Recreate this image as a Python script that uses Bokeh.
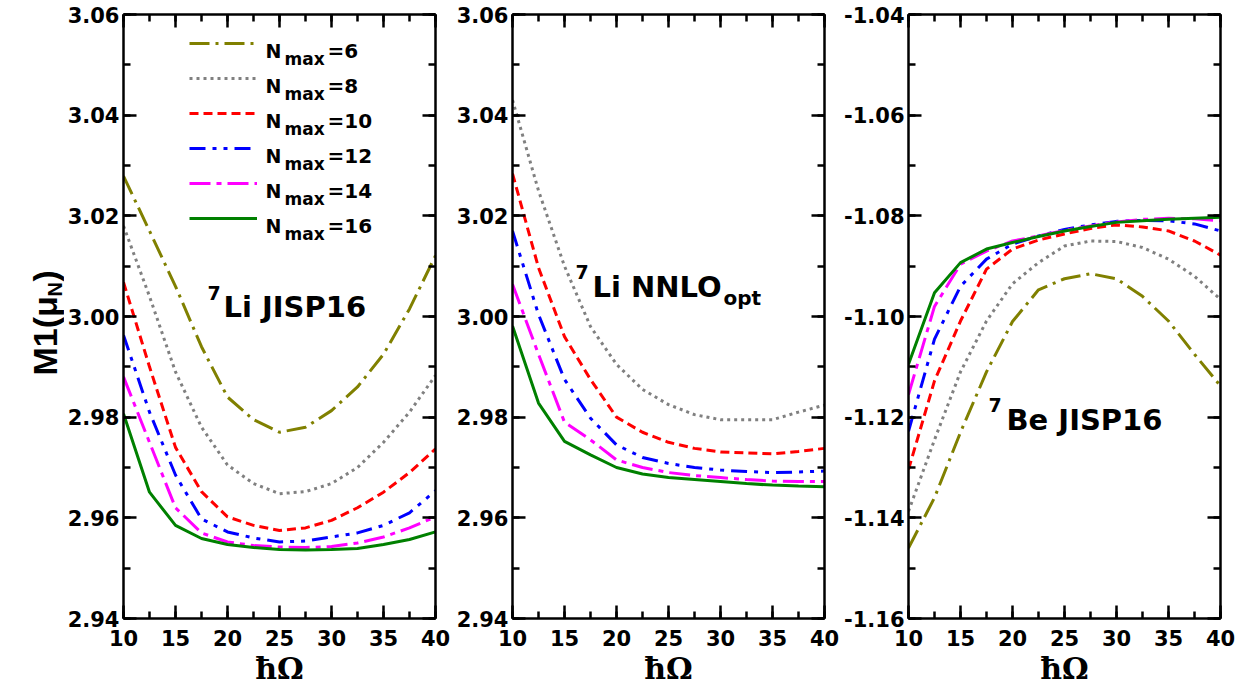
from bokeh.plotting import figure
from bokeh.layouts import row
from bokeh.models import (Range1d, FixedTicker, LinearAxis, Label, Legend, LegendItem,
                          PrintfTickFormatter, CustomJSTickFormatter)
from bokeh.embed import file_html
from bokeh.resources import INLINE

# ---------------- data ----------------
hw = [10, 12.5, 15, 17.5, 20, 22.5, 25, 27.5, 30, 32.5, 35, 37.5, 40]

# 7Li JISP16
li_jisp_n6 = [3.0279, 3.0170, 3.0060, 2.9940, 2.9840, 2.9795, 2.9770, 2.9780, 2.9813, 2.9860, 2.9925, 3.0015, 3.0121]
li_jisp_n8 = [3.0180, 3.0040, 2.9890, 2.9780, 2.9705, 2.9668, 2.9648, 2.9652, 2.9668, 2.9700, 2.9750, 2.9810, 2.9883]
li_jisp_n10 = [3.0068, 2.9900, 2.9740, 2.9652, 2.9602, 2.9585, 2.9575, 2.9580, 2.9595, 2.9620, 2.9651, 2.9690, 2.9737]
li_jisp_n12 = [2.9963, 2.9810, 2.9685, 2.9598, 2.9572, 2.9560, 2.9552, 2.9554, 2.9562, 2.9570, 2.9585, 2.9610, 2.9654]
li_jisp_n14 = [2.9880, 2.9750, 2.9620, 2.9570, 2.9552, 2.9545, 2.9542, 2.9541, 2.9543, 2.9550, 2.9562, 2.9580, 2.9602]
li_jisp_n16 = [2.9807, 2.9651, 2.9585, 2.9559, 2.9547, 2.9541, 2.9537, 2.9536, 2.9537, 2.9539, 2.9547, 2.9557, 2.9572]

# 7Li NNLOopt
li_nnlo_n8 = [3.0430, 3.0250, 3.0100, 2.9980, 2.9905, 2.9855, 2.9825, 2.9805, 2.9795, 2.9795, 2.9795, 2.9810, 2.9824]
li_nnlo_n10 = [3.0284, 3.0097, 2.9960, 2.9875, 2.9800, 2.9770, 2.9750, 2.9738, 2.9731, 2.9729, 2.9727, 2.9732, 2.9738]
li_nnlo_n12 = [3.0170, 3.0004, 2.9875, 2.9798, 2.9745, 2.9720, 2.9708, 2.9700, 2.9695, 2.9692, 2.9690, 2.9691, 2.9693]
li_nnlo_n14 = [3.0064, 2.9925, 2.9790, 2.9755, 2.9715, 2.9700, 2.9690, 2.9684, 2.9680, 2.9676, 2.9673, 2.9672, 2.9672]
li_nnlo_n16 = [2.9981, 2.9828, 2.9752, 2.9725, 2.9700, 2.9687, 2.9680, 2.9676, 2.9672, 2.9668, 2.9665, 2.9663, 2.9662]

# 7Be JISP16
be_jisp_n6 = [-1.1460, -1.1360, -1.1230, -1.1110, -1.1010, -1.0947, -1.0925, -1.0915, -1.0925, -1.0960, -1.1009, -1.1075, -1.1138]
be_jisp_n8 = [-1.1387, -1.1245, -1.1110, -1.1009, -1.0935, -1.0893, -1.0860, -1.0850, -1.0851, -1.0863, -1.0886, -1.0920, -1.0966]
be_jisp_n10 = [-1.1304, -1.1128, -1.1009, -1.0906, -1.0866, -1.0848, -1.0836, -1.0825, -1.0818, -1.0822, -1.0830, -1.0850, -1.0878]
be_jisp_n12 = [-1.1228, -1.1045, -1.0940, -1.0886, -1.0856, -1.0840, -1.0827, -1.0818, -1.0811, -1.0809, -1.0810, -1.0816, -1.0830]
be_jisp_n14 = [-1.1155, -1.0980, -1.0896, -1.0870, -1.0850, -1.0840, -1.0829, -1.0820, -1.0812, -1.0807, -1.0805, -1.0806, -1.0810]
be_jisp_n16 = [-1.1095, -1.0953, -1.0893, -1.0866, -1.0853, -1.0841, -1.0830, -1.0821, -1.0813, -1.0810, -1.0807, -1.0805, -1.0803]

nmax_values = ["6", "8", "10", "12", "14", "16"]

x_ticks = [10, 15, 20, 25, 30, 35, 40]
x_minor = [10, 12.5, 15, 17.5, 20, 22.5, 25, 27.5, 30, 32.5, 35, 37.5, 40]
li_ticks = [2.94, 2.96, 2.98, 3.00, 3.02, 3.04, 3.06]
li_minor = [2.94, 2.95, 2.96, 2.97, 2.98, 2.99, 3.00, 3.01, 3.02, 3.03, 3.04, 3.05, 3.06]
be_ticks = [-1.16, -1.14, -1.12, -1.10, -1.08, -1.06, -1.04]
be_minor = [-1.16, -1.15, -1.14, -1.13, -1.12, -1.11, -1.10, -1.09, -1.08, -1.07, -1.06, -1.05, -1.04]

# ---------------- styles ----------------
STY = {
    "6": dict(color="#808000", dash="20 6 3 6"),
    "8": dict(color="#808080", dash="3 4"),
    "10": dict(color="#FF0000", dash="9 5"),
    "12": dict(color="#0000FF", dash="16 7 4 7 4 7"),
    "14": dict(color="#FF00FF", dash="21 6 5 6"),
    "16": dict(color="#008000", dash="solid"),
}
TICK_FONT = "DejaVu Sans"
FW, FH = 312, 604
TOP = 14
BOTTOM = 66


def style_axis(ax, ticks, minor, labels):
    ax.ticker = FixedTicker(ticks=ticks, minor_ticks=minor)
    ax.axis_line_color = "black"
    ax.axis_line_width = 2.5
    ax.major_tick_line_color = "black"
    ax.minor_tick_line_color = "black"
    ax.major_tick_line_width = 2.5
    ax.minor_tick_line_width = 2.5
    ax.major_tick_in = 13
    ax.major_tick_out = 0
    ax.minor_tick_in = 7
    ax.minor_tick_out = 0
    if labels:
        ax.major_label_text_font = TICK_FONT
        ax.major_label_text_font_style = "bold"
        ax.major_label_text_font_size = "21px"
        ax.major_label_text_color = "black"
    else:
        ax.formatter = CustomJSTickFormatter(code="return ''")
        ax.major_label_standoff = 0


def panel(yr, yt, ym, series, bl, br):
    p = figure(frame_width=FW, frame_height=FH, x_range=Range1d(10, 40), y_range=Range1d(*yr),
               output_backend="svg", toolbar_location=None,
               min_border_left=bl, min_border_right=br, min_border_top=TOP, min_border_bottom=BOTTOM)
    p.grid.visible = False
    p.outline_line_color = None
    p.background_fill_color = "white"
    p.border_fill_color = "white"
    style_axis(p.xaxis[0], x_ticks, x_minor, True)
    style_axis(p.yaxis[0], yt, ym, True)
    p.xaxis[0].major_label_standoff = 11
    p.yaxis[0].major_label_standoff = 4
    p.yaxis[0].formatter = PrintfTickFormatter(format="%.2f")
    p.xaxis[0].axis_label = "ħΩ"
    p.xaxis[0].axis_label_text_font = "DejaVu Serif"
    p.xaxis[0].axis_label_text_font_style = "bold"
    p.xaxis[0].axis_label_text_font_size = "30px"
    p.xaxis[0].axis_label_text_color = "black"
    p.xaxis[0].axis_label_standoff = 2
    top = LinearAxis()
    style_axis(top, x_ticks, x_minor, False)
    p.add_layout(top, "above")
    right = LinearAxis()
    style_axis(right, yt, ym, False)
    p.add_layout(right, "right")
    rends = {}
    for key, ys in series:
        s = STY[key]
        rends[key] = p.line(hw, ys, line_color=s["color"], line_width=3, line_dash=s["dash"])
    return p, rends


def lab(p, x, y, text, size, font="DejaVu Sans", angle=0, align="left"):
    p.add_layout(Label(x=x, y=y, x_units="screen", y_units="screen", text=text,
                       text_font=font, text_font_style="bold", text_font_size=f"{size}px",
                       text_align=align, text_baseline="alphabetic", text_color="black",
                       angle=angle, angle_units="deg"))


# narrow figure holding the rotated y-axis title
YW, YH = 64, 680
py = figure(frame_width=YW, frame_height=YH, x_range=Range1d(0, 1), y_range=Range1d(0, 1),
            output_backend="svg", toolbar_location=None,
            min_border_left=0, min_border_right=0, min_border_top=0, min_border_bottom=0)
py.axis.visible = False
py.grid.visible = False
py.outline_line_color = None
py.background_fill_color = "white"
py.border_fill_color = "white"
lab(py, 44, 319, "M1(μ", 34, font="Liberation Sans", angle=90)
lab(py, 54, 398, "N", 20, font="Liberation Sans", angle=90)
lab(py, 44, 413, ")", 34, font="Liberation Sans", angle=90)

p1, r1 = panel((2.94, 3.06), li_ticks, li_minor,
               [("6", li_jisp_n6), ("8", li_jisp_n8), ("10", li_jisp_n10),
                ("12", li_jisp_n12), ("14", li_jisp_n14), ("16", li_jisp_n16)], 58, 17)
p2, r2 = panel((2.94, 3.06), li_ticks, li_minor,
               [("8", li_nnlo_n8), ("10", li_nnlo_n10), ("12", li_nnlo_n12),
                ("14", li_nnlo_n14), ("16", li_nnlo_n16)], 60, 16)
p3, r3 = panel((-1.16, -1.04), be_ticks, be_minor,
               [("6", be_jisp_n6), ("8", be_jisp_n8), ("10", be_jisp_n10),
                ("12", be_jisp_n12), ("14", be_jisp_n14), ("16", be_jisp_n16)], 65, 16)

# legend (line samples) in panel 1
items = [LegendItem(label=" ", renderers=[r1[k]]) for k in nmax_values]
leg = Legend(items=items, location=(66, 390), glyph_width=68, glyph_height=20, label_height=20,
             spacing=15, padding=0, margin=0, border_line_color=None, background_fill_alpha=0,
             label_text_font_size="1px", label_standoff=0, label_width=0)
p1.add_layout(leg)
for i, n in enumerate(nmax_values):
    cy = 44.3 + 35 * i - 15  # from frame top
    lab(p1, 142, FH - (cy + 7.5), "N", 19)
    lab(p1, 161, FH - (cy + 15.5), "max", 17)
    lab(p1, 204, FH - (cy + 7.5), "=" + n, 20)

# panel annotations
lab(p1, 84, 326, "7", 19)
lab(p1, 100, 312, "Li JISP16", 29)
lab(p2, 63, 347, "7", 19)
lab(p2, 80, 332, "Li NNLO", 29)
lab(p2, 211, 321, "opt", 20)
lab(p3, 80, 214, "7", 19)
lab(p3, 98, 199, "Be JISP16", 29)

layout = row(py, p1, p2, p3)
open("out.html", "w").write(file_html(layout, INLINE))
